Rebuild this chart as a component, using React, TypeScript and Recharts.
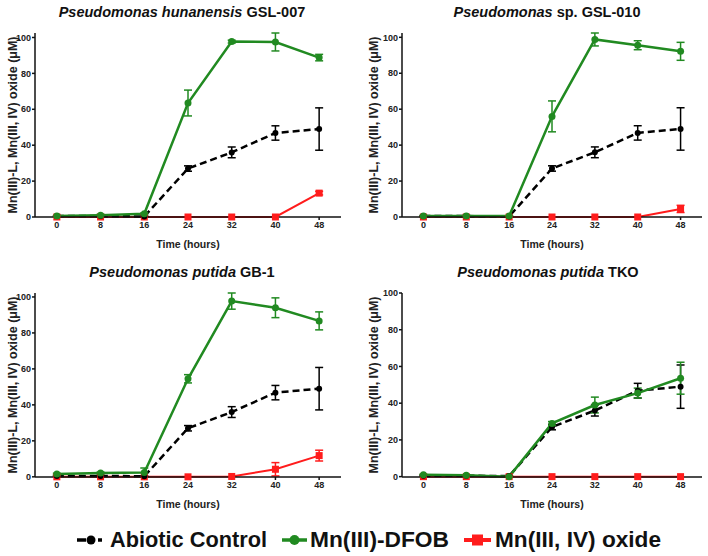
import React from 'react';
import { LineChart, Line, XAxis, YAxis, ErrorBar } from 'recharts';

// sampling times (hours)
const hours = [0, 8, 16, 24, 32, 40, 48];
const hourTicks = [0, 8, 16, 24, 32, 40, 48];
const yTicks = [0, 20, 40, 60, 80, 100];

// abiotic control (same in every panel)
const abiotic = [0.5, 0.5, 0.3, 27, 36, 46.8, 49];
const abioticErr = [0.3, 0.3, 0.3, 1.5, 3, 4, 11.8];

// P. hunanensis GSL-007
const gsl007Dfob = [0.5, 1, 1.8, 63.5, 97.7, 97.5, 88.8];
const gsl007DfobErr = [0.3, 0.5, 0.5, 7.2, 0.8, 5, 1.8];
const gsl007Oxide = [0, 0, 0, 0, 0, 0, 13.3];
const gsl007OxideErr = [0, 0, 0, 0, 0, 0, 1];

// P. sp. GSL-010
const gsl010Dfob = [0.5, 0.5, 0.5, 56, 98.8, 95.6, 92.2];
const gsl010DfobErr = [0.3, 0.3, 0.3, 8.6, 3.6, 2.5, 5];
const gsl010Oxide = [0, 0, 0, 0, 0, 0, 4.5];
const gsl010OxideErr = [0, 0, 0, 0, 0, 0, 2];

// P. putida GB-1
const gb1Dfob = [1.5, 2.1, 2.4, 54.5, 97.7, 94, 86.7];
const gb1DfobErr = [0.5, 0.5, 2.5, 2.3, 4.5, 5.5, 5];
const gb1Oxide = [0, 0, 0, 0, 0.2, 4.2, 11.8];
const gb1OxideErr = [0, 0, 0, 0, 0, 3.7, 3];

// P. putida TKO
const tkoDfob = [1, 0.7, 0, 29, 39, 45.5, 53.6];
const tkoDfobErr = [0.3, 0.3, 0.2, 1, 4.3, 2.7, 8.7];
const tkoOxide = [0, 0, 0, 0, 0, 0, 0];
const tkoOxideErr = [0, 0, 0, 0, 0, 0, 0];

const GREEN = '#218a21';
const RED = '#ff1c1c';
const FONT = '"Liberation Sans", Arial, sans-serif';

const SquareDot = (p: any) => (
  <rect key={`sq-${p.index}`} x={p.cx - 3.5} y={p.cy - 3.5} width={7} height={7} fill={RED} />
);

interface PanelProps {
  species: string;
  strain: string;
  dfob: number[];
  dfobErr: number[];
  oxide: number[];
  oxideErr: number[];
  left: number;
  top: number;
  yWidth: number;
  rightMargin: number;
  labelOffset: number;
  titleX: number;
  titleY: number;
}

function Panel(props: PanelProps) {
  const { species, strain, dfob, dfobErr, oxide, oxideErr, left, top, yWidth, rightMargin, labelOffset, titleX, titleY } = props;
  const data = hours.map((h, i) => ({
    h,
    ab: abiotic[i],
    abE: abioticErr[i],
    df: dfob[i],
    dfE: dfobErr[i],
    ox: oxide[i],
    oxE: oxideErr[i],
  }));
  const tick = { fontSize: 9, fontWeight: 700, fill: '#222', fontFamily: FONT };

  return (
    <>
      <div
        style={{
          position: 'absolute',
          left: titleX - 200,
          top: titleY - 9,
          width: 400,
          textAlign: 'center',
          fontFamily: FONT,
          fontWeight: 700,
          fontSize: 14.5,
          lineHeight: '18px',
          color: '#111',
        }}
      >
        <i>{species}</i> {strain}
      </div>
      <div style={{ position: 'absolute', left, top }}>
        <LineChart width={354} height={260} data={data} margin={{ top: 33, right: rightMargin, bottom: 0, left: 0 }}>
          <XAxis
            type="number"
            dataKey="h"
            domain={[-4, 52]}
            ticks={hourTicks}
            allowDataOverflow
            height={43}
            stroke="#111"
            strokeWidth={1.5}
            tickSize={3}
            tickMargin={2}
            tick={tick}
            label={{
              value: 'Time (hours)',
              position: 'insideBottom',
              offset: 12,
              style: { fontSize: 10.5, fontWeight: 700, fill: '#222', fontFamily: FONT },
            }}
          />
          <YAxis
            domain={[0, 100]}
            ticks={yTicks}
            width={yWidth}
            stroke="#111"
            strokeWidth={1.5}
            tickSize={3}
            tickMargin={1}
            tick={tick}
            label={{
              value: 'Mn(III)-L, Mn(III, IV) oxide (\u03bcM)',
              angle: -90,
              position: 'insideLeft',
              offset: labelOffset,
              style: { textAnchor: 'middle', fontSize: 12.5, fontWeight: 700, fill: '#222', fontFamily: FONT },
            }}
          />
          <Line
            dataKey="ox"
            stroke={RED}
            strokeWidth={2}
            dot={SquareDot}
            isAnimationActive={false}
          >
            <ErrorBar dataKey="oxE" direction="y" width={4} stroke={RED} strokeWidth={1.5} />
          </Line>
          <Line
            dataKey="ab"
            stroke="#000"
            strokeWidth={2.5}
            strokeDasharray="7 4"
            dot={{ r: 3, fill: '#000', stroke: '#000', strokeWidth: 0 }}
            isAnimationActive={false}
          >
            <ErrorBar dataKey="abE" direction="y" width={4} stroke="#000" strokeWidth={1.5} />
          </Line>
          <Line
            dataKey="df"
            stroke={GREEN}
            strokeWidth={2.5}
            dot={{ r: 3.5, fill: GREEN, stroke: GREEN, strokeWidth: 0 }}
            isAnimationActive={false}
          >
            <ErrorBar dataKey="dfE" direction="y" width={4} stroke={GREEN} strokeWidth={1.5} />
          </Line>
        </LineChart>
      </div>
    </>
  );
}

function LegendRow() {
  const txt = { fontFamily: FONT, fontWeight: 700, fontSize: 21.5, fill: '#111' };
  return (
    <svg width={708} height={36} style={{ position: 'absolute', left: 0, top: 520 }}>
      <line x1={77} y1={20} x2={86} y2={20} stroke="#000" strokeWidth={3.5} />
      <circle cx={91} cy={20} r={4.5} fill="#000" />
      <line x1={98} y1={20} x2={102} y2={20} stroke="#000" strokeWidth={3.5} />
      <text x={110} y={27} textLength={157} lengthAdjust="spacingAndGlyphs" style={txt}>Abiotic Control</text>

      <line x1={282} y1={20} x2={307} y2={20} stroke={GREEN} strokeWidth={3.5} />
      <circle cx={294.5} cy={20} r={5} fill={GREEN} />
      <text x={310} y={27} textLength={139} lengthAdjust="spacingAndGlyphs" style={txt}>Mn(III)-DFOB</text>

      <line x1={464} y1={20} x2={491} y2={20} stroke={RED} strokeWidth={4} />
      <rect x={472} y={14.5} width={11} height={11} fill={RED} />
      <text x={495} y={27} textLength={166} lengthAdjust="spacingAndGlyphs" style={txt}>Mn(III, IV) oxide</text>
    </svg>
  );
}

export default function App() {
  return (
    <div style={{ position: 'absolute', left: 0, top: 0, width: 708, height: 556, background: '#fff', overflow: 'hidden' }}>
      <Panel species="Pseudomonas hunanensis" strain="GSL-007" dfob={gsl007Dfob} dfobErr={gsl007DfobErr}
        oxide={gsl007Oxide} oxideErr={gsl007OxideErr} left={0} top={0} yWidth={35} rightMargin={13}
        labelOffset={13} titleX={182} titleY={12} />
      <Panel species="Pseudomonas" strain="sp. GSL-010" dfob={gsl010Dfob} dfobErr={gsl010DfobErr}
        oxide={gsl010Oxide} oxideErr={gsl010OxideErr} left={354} top={0} yWidth={48} rightMargin={6}
        labelOffset={20} titleX={547} titleY={12} />
      <Panel species="Pseudomonas putida" strain="GB-1" dfob={gb1Dfob} dfobErr={gb1DfobErr}
        oxide={gb1Oxide} oxideErr={gb1OxideErr} left={0} top={260} yWidth={35} rightMargin={13}
        labelOffset={13} titleX={182} titleY={272} />
      <Panel species="Pseudomonas putida" strain="TKO" dfob={tkoDfob} dfobErr={tkoDfobErr}
        oxide={tkoOxide} oxideErr={tkoOxideErr} left={354} top={260} yWidth={48} rightMargin={6}
        labelOffset={20} titleX={548} titleY={272} />
      <LegendRow />
    </div>
  );
}
